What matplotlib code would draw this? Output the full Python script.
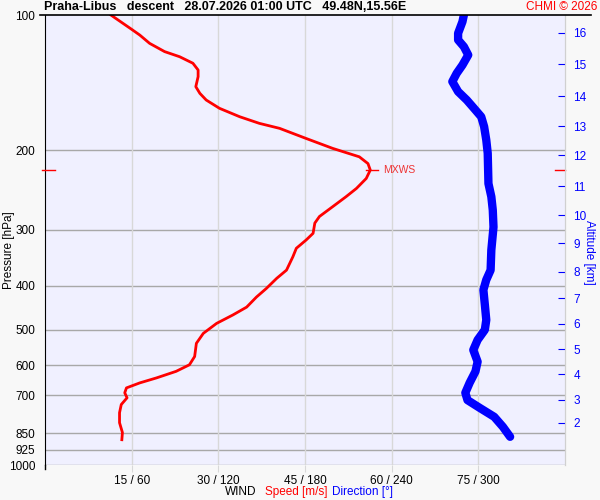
import matplotlib.pyplot as plt
import matplotlib.transforms as mtransforms
from matplotlib.lines import Line2D

plt.rcParams['font.family'] = ['Liberation Sans', 'DejaVu Sans']

# wind speed profile (hPa, m/s)
p_speed = [100, 107.4, 110.8, 115.6, 120.6, 123.8, 128.0, 132.5, 137.1, 144.3, 149.3,
           154.5, 161.2, 168.3, 174.1, 178.6, 188.1, 197.9, 206.6, 213.9, 221.1, 230.8,
           242.9, 253.4, 266.6, 280.4, 290.0, 305.6, 316.2, 329.9, 344.6, 368.9, 384.8,
           405.3, 423.4, 445.8, 464.2, 484.5, 509.9, 536.5, 574.0, 598.8, 619.2, 640.4,
           657.0, 674.0, 691.1, 709.1, 733.9, 765.3, 805.5, 846.9, 878.7]
speed = [11.4, 14.9, 16.4, 18.1, 20.7, 23.3, 25.6, 26.5, 26.5, 26.1, 26.8,
         27.9, 30.2, 33.7, 37.1, 40.6, 45.2, 49.8, 54.4, 55.9, 56.3, 55.6,
         53.9, 52.1, 49.8, 47.5, 46.7, 46.4, 45.2, 43.5, 42.9, 41.8, 40.1,
         38.3, 36.6, 34.9, 32.5, 29.7, 27.4, 26.2, 25.9, 25.0, 22.7, 19.3,
         16.4, 14.1, 13.8, 14.2, 13.2, 12.9, 12.9, 13.4, 13.3]

# wind direction profile (hPa, deg)
p_dir = [100, 103.5, 109.8, 113.6, 117.6, 122.7, 129.2, 134.8, 140.6, 148.0, 154.5,
         161.2, 168.3, 177, 189.6, 202.9, 236.9, 253.4, 271.3, 295.9, 332.9, 368.9,
         387.7, 408.2, 440.0, 476.0, 500.8, 527.3, 555.0, 589.5, 619.7, 656.6, 691.1,
         717.5, 746.7, 781.6, 822.4, 865.6]
direction = [290, 289, 286, 286, 290, 293, 289, 285, 282, 286, 292,
             297, 302, 304, 305.5, 306.5, 307, 309, 310, 310.5, 309, 308.5,
             305.5, 303.5, 304.5, 305.5, 304.5, 299.5, 296.5, 299.5, 298, 294, 291,
             292.5, 301, 311, 317, 322]

p_levels = [100, 200, 300, 400, 500, 600, 700, 850, 925, 1000]
speed_ticks = [15, 30, 45, 60, 75]
alt_km = [16, 15, 14, 13, 12, 11, 10, 9, 8, 7, 6, 5, 4, 3, 2]
alt_p = [109.6, 128.5, 151.4, 176.5, 204.7, 239.9, 278.3, 321.2, 372.4, 425.5,
         486.0, 552.5, 628.0, 717.0, 806.5]
mxws_p = 221.1
mxws_speed = 56.3

fig = plt.figure(figsize=(6, 5), dpi=100, facecolor='#f8f8f8')
ax = fig.add_axes([45/600, 35/500, 520/600, 450/500])
ax.set_facecolor('#f0f0ff')
ax.set_yscale('log')
ax.set_ylim(1000, 100)
ax.set_xlim(0, 90)

for p in p_levels[1:]:
    ax.axhline(p, color='#a8a8a8', lw=1, zorder=1)
for s in speed_ticks:
    ax.axvline(s, color='#d8d8d8', lw=1, zorder=1)

ax.plot([d / 4 for d in direction], p_dir, color='#0000ff', lw=6,
        solid_capstyle='round', zorder=3)
ax.plot(speed, p_speed, color='#ff0000', lw=2, zorder=4)

# max wind marker
ax.plot([mxws_speed - 0.8, mxws_speed + 1.3], [mxws_p, mxws_p], color='#ff0000', lw=1, zorder=5)
ax.text(mxws_speed + 2.2, mxws_p, 'MXWS', color='#ee3333', fontsize=7.5,
        va='center', ha='left')
trans = mtransforms.blended_transform_factory(ax.transAxes, ax.transData)
ax.plot([-0.005, 0.02], [mxws_p, mxws_p], color='#ff0000', lw=1, transform=trans,
        clip_on=False, zorder=5)
ax.plot([0.98, 1.0], [mxws_p, mxws_p], color='#ff0000', lw=1, transform=trans,
        clip_on=False, zorder=5)

for side in ['top', 'bottom']:
    ax.spines[side].set_visible(False)
ax.spines['left'].set_color('black')
ax.spines['right'].set_color('#d0d0d0')

ax.set_yticks(p_levels)
ax.set_yticklabels([str(p) for p in p_levels], fontsize=8.5)
ax.yaxis.set_minor_locator(plt.NullLocator())
ax.tick_params(axis='y', length=0, pad=7)
ax.set_xticks(speed_ticks)
ax.set_xticklabels([f'{s} / {s * 4}' for s in speed_ticks], fontsize=8.5)
ax.tick_params(axis='x', length=5, color='#d8d8d8', pad=2)

ax2 = ax.twinx()
ax2.set_yscale('log')
ax2.set_ylim(1000, 100)
ax2.set_yticks(alt_p)
ax2.set_yticklabels([str(a) for a in alt_km], fontsize=8.5, color='#0000ff')
ax2.yaxis.set_minor_locator(plt.NullLocator())
ax2.tick_params(axis='y', direction='in', length=5, color='#0000ff', pad=6)
for side in ['top', 'bottom', 'left']:
    ax2.spines[side].set_visible(False)
ax2.spines['right'].set_color('#d0d0d0')

fig.text(9/600, 0.5, 'Pressure [hPa]', fontsize=8.5, rotation=90, va='center', ha='center')
fig.text(589/600, 1 - 252/500, 'Altitude [km]', fontsize=8.5, color='#0000ff',
         rotation=270, va='center', ha='center')

# top frame line and left axis extension
fig.add_artist(Line2D([40/600, 591/600], [485/500, 485/500], color='black', lw=1.2))
fig.add_artist(Line2D([45/600, 45/600], [31/500, 35/500], color='black', lw=1))

fig.text(44/600, 493/500, 'Praha-Libus   descent   28.07.2026 01:00 UTC   49.48N,15.56E',
         fontsize=9, fontweight='bold', va='center', ha='left')
fig.text(597/600, 493/500, 'CHMI © 2026', fontsize=8.5, color='#ff0000', va='center', ha='right')

fig.text(225/600, 8/500, 'WIND', fontsize=8.5, va='center', ha='left')
fig.text(265/600, 8/500, 'Speed [m/s]', fontsize=8.5, color='#ff0000', va='center', ha='left')
fig.text(332/600, 8/500, 'Direction [°]', fontsize=8.5, color='#0000ff', va='center', ha='left')

fig.savefig('out.png', dpi=100, facecolor=fig.get_facecolor())
